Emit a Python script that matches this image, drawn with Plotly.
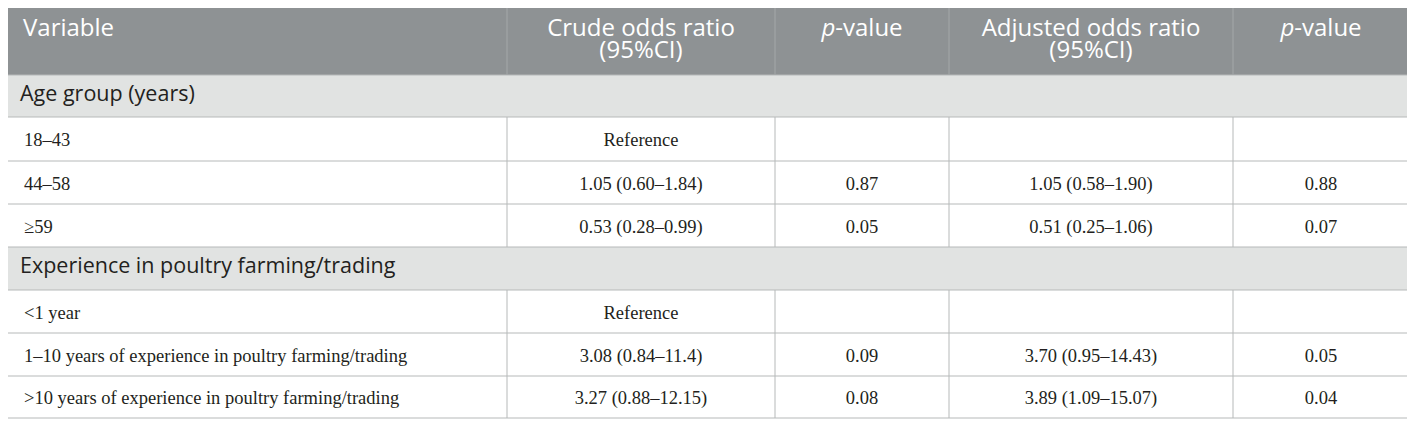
import plotly.graph_objects as go

# ---- data ----
headers = ["Variable", "Crude odds ratio<br>(95%CI)", "<i>p</i>-value",
           "Adjusted odds ratio<br>(95%CI)", "<i>p</i>-value"]
variables = ["Age group (years)", "18–43", "44–58", "≥59",
             "Experience in poultry farming/trading", "&lt;1 year",
             "1–10 years of experience in poultry farming/trading",
             "&gt;10 years of experience in poultry farming/trading"]
crude_or = ["", "Reference", "1.05 (0.60–1.84)", "0.53 (0.28–0.99)",
            "", "Reference", "3.08 (0.84–11.4)", "3.27 (0.88–12.15)"]
crude_p = ["", "", "0.87", "0.05", "", "", "0.09", "0.08"]
adj_or = ["", "", "1.05 (0.58–1.90)", "0.51 (0.25–1.06)",
          "", "", "3.70 (0.95–14.43)", "3.89 (1.09–15.07)"]
adj_p = ["", "", "0.88", "0.07", "", "", "0.05", "0.04"]
is_section = [True, False, False, False, True, False, False, False]

# ---- layout / style constants ----
W, H = 1415, 425
PAGE_OFF = 8          # default page margin of the html body
X0, Y0 = 5, 4
COL_W = [502, 268, 174, 284, 176]
HEAD_H = 71
ROW_H = [42, 44, 43, 43, 43, 43, 43, 42]
HEAD_FILL = "#8e9294"
HEAD_LINE = "#a4a8a9"
SEC_FILL = "#e1e3e2"
BORDER = "#b6b9b9"
WHITE = "#ffffff"
TXT = "#231f20"
SANS = "Open Sans"
SERIF = "Liberation Serif"
PAD_DATA = 19
PAD_SEC = 15

columns = [variables, crude_or, crude_p, adj_or, adj_p]
ncol = len(columns)

x_edges = [X0]
for w in COL_W:
    x_edges.append(x_edges[-1] + w)
y_edges = [Y0, Y0 + HEAD_H]
for h in ROW_H:
    y_edges.append(y_edges[-1] + h)
x_right = x_edges[-1]
y_bottom = y_edges[-1]

fig = go.Figure()

# cell fills (header=2, section=1, plain=0)
z = [[2] * ncol] + [[1 if s else 0] * ncol for s in is_section]
fig.add_trace(go.Heatmap(
    x=x_edges, y=y_edges, z=z, zmin=0, zmax=2,
    colorscale=[[0, WHITE], [0.33, WHITE], [0.33, SEC_FILL], [0.66, SEC_FILL],
                [0.66, HEAD_FILL], [1, HEAD_FILL]],
    showscale=False, hoverinfo="skip",
))


def seg_trace(xs, ys, color):
    return go.Scatter(x=xs, y=ys, mode="lines", line=dict(color=color, width=1),
                      hoverinfo="skip", showlegend=False)


# grid lines
hx, hy = [], []
for y in y_edges[1:]:
    hx += [X0, x_right, None]
    hy += [y, y, None]
for x in (X0, x_right):
    hx += [x, x, None]
    hy += [Y0, y_bottom, None]
for r, s in enumerate(is_section):
    if s:
        continue
    for x in x_edges[1:-1]:
        hx += [x, x, None]
        hy += [y_edges[r + 1], y_edges[r + 2], None]
fig.add_trace(seg_trace(hx, hy, BORDER))

# header lines (lighter)
vx, vy = [X0, x_right, None], [Y0, Y0, None]
for x in x_edges[1:-1]:
    vx += [x, x, None]
    vy += [Y0, Y0 + HEAD_H, None]
fig.add_trace(seg_trace(vx, vy, HEAD_LINE))

# header text
hdr_x, hdr_y, hdr_t, hdr_pos = [], [], [], []
for c, htxt in enumerate(headers):
    for i, line in enumerate(htxt.split("<br>")):
        if c == 0:
            hdr_x.append(x_edges[0] + 18)
            hdr_pos.append("middle right")
        else:
            hdr_x.append((x_edges[c] + x_edges[c + 1]) / 2)
            hdr_pos.append("middle center")
        hdr_y.append(Y0 + 25.5 + i * 22.5)
        hdr_t.append(line)
fig.add_trace(go.Scatter(
    x=hdr_x, y=hdr_y, text=hdr_t, mode="text", textposition=hdr_pos,
    textfont=dict(family=SANS, size=24, color="white"),
    hoverinfo="skip", showlegend=False,
))

# section text
sx, sy, st = [], [], []
for r, s in enumerate(is_section):
    if s:
        sx.append(x_edges[0] + PAD_SEC)
        sy.append((y_edges[r + 1] + y_edges[r + 2]) / 2 - 0.5)
        st.append(variables[r])
fig.add_trace(go.Scatter(
    x=sx, y=sy, text=st, mode="text", textposition="middle right",
    textfont=dict(family=SANS, size=21.5, color=TXT),
    hoverinfo="skip", showlegend=False,
))

# data text
dx, dy, dt, dpos = [], [], [], []
for r, s in enumerate(is_section):
    if s:
        continue
    yc = (y_edges[r + 1] + y_edges[r + 2]) / 2 + 2.6
    for c in range(ncol):
        val = columns[c][r]
        if not val:
            continue
        if c == 0:
            dx.append(x_edges[0] + PAD_DATA)
            dpos.append("middle right")
        else:
            dx.append((x_edges[c] + x_edges[c + 1]) / 2)
            dpos.append("middle center")
        dy.append(yc)
        dt.append(val)
fig.add_trace(go.Scatter(
    x=dx, y=dy, text=dt, mode="text", textposition=dpos,
    textfont=dict(family=SERIF, size=18.5, color=TXT),
    hoverinfo="skip", showlegend=False,
))

fig.update_layout(
    width=W - PAGE_OFF, height=H - PAGE_OFF,
    margin=dict(l=0, r=0, t=0, b=0),
    paper_bgcolor="white", plot_bgcolor="white",
    xaxis=dict(range=[PAGE_OFF, W], visible=False, fixedrange=True),
    yaxis=dict(range=[H, PAGE_OFF], visible=False, fixedrange=True),
    showlegend=False,
)

fig.write_html("out.html")
